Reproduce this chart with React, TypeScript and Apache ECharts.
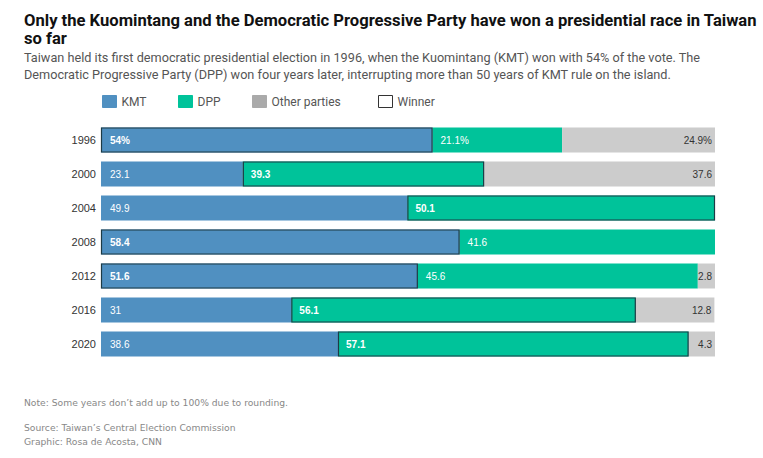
import React, { useEffect, useRef } from 'react';
import * as echarts from 'echarts';

const years = ['1996', '2000', '2004', '2008', '2012', '2016', '2020'];
const kmt = [54, 23.1, 49.9, 58.4, 51.6, 31, 38.6];
const dpp = [21.1, 39.3, 50.1, 41.6, 45.6, 56.1, 57.1];
const others = [24.9, 37.6, 0, 0, 2.8, 12.8, 4.3];
const winners = ['KMT', 'DPP', 'DPP', 'KMT', 'KMT', 'DPP', 'DPP'];

const KMT_COLOR = '#5090c1';
const DPP_COLOR = '#00c39a';
const OTHER_COLOR = '#cccccc';
const BORDER = '#1d3b45';

const App: React.FC = () => {
  const chartRef = useRef<HTMLDivElement>(null);

  useEffect(() => {
    document.body.style.margin = '0';
    if (!chartRef.current) return;
    const chart = echarts.init(chartRef.current, null, { renderer: 'svg' });

    const fmt = (p: any) => {
      const v = p.value;
      if (!v) return '';
      return p.dataIndex === 0 ? `${v}%` : `${v}`;
    };

    const withWeight = (vals: number[], party: string) =>
      vals.map((v, i) => ({
        value: v,
        label: { fontWeight: winners[i] === party ? 'bold' : 'normal' }
      }));

    // winner outline spans: [start, end, row]
    const winnerSpans = winners.map((w, i) =>
      w === 'KMT' ? [0, kmt[i], i] : [kmt[i], kmt[i] + dpp[i], i]
    );

    const labelBase = {
      show: true,
      fontFamily: 'Liberation Sans, Arial, sans-serif',
      fontSize: 10,
      formatter: fmt
    };

    const option: echarts.EChartsOption = {
      animation: false,
      backgroundColor: '#ffffff',
      title: {
        left: 24,
        top: 11,
        text: 'Only the Kuomintang and the Democratic Progressive Party have won a presidential race in Taiwan\nso far',
        textStyle: {
          fontFamily: 'Roboto, sans-serif',
          fontSize: 16.6,
          fontWeight: 'bold',
          lineHeight: 18,
          color: '#111111'
        },
        subtext:
          'Taiwan held its first democratic presidential election in 1996, when the Kuomintang (KMT) won with 54% of the vote. The\nDemocratic Progressive Party (DPP) won four years later, interrupting more than 50 years of KMT rule on the island.',
        subtextStyle: {
          fontFamily: 'Roboto, sans-serif',
          fontSize: 12.7,
          lineHeight: 17,
          color: '#555555'
        },
        itemGap: 2,
        padding: 0
      },
      legend: [
        { name: 'KMT', left: 102, color: KMT_COLOR },
        { name: 'DPP', left: 178, color: DPP_COLOR },
        { name: 'Other parties', left: 252, color: '#aaaaaa' },
        { name: 'Winner', left: 378, color: '#ffffff' }
      ].map(l => ({
        left: l.left,
        top: 95,
        padding: 0,
        itemWidth: 14,
        itemHeight: 12,
        itemGap: 7,
        selectedMode: false,
        icon: 'rect',
        textStyle: { fontFamily: 'Roboto, sans-serif', fontSize: 12, color: '#555555', padding: [0, 0, 0, 0] },
        data: [
          {
            name: l.name,
            itemStyle: {
              color: l.color,
              borderColor: l.name === 'Winner' ? '#333333' : l.color,
              borderWidth: 1
            }
          }
        ]
      })) as any,
      grid: { left: 101, right: 48, top: 123, bottom: 97, containLabel: false },
      xAxis: { type: 'value', min: 0, max: 100, show: false },
      yAxis: {
        type: 'category',
        data: years,
        inverse: true,
        axisLine: { show: false },
        axisTick: { show: false },
        axisLabel: {
          margin: 5,
          fontFamily: 'Liberation Sans, Arial, sans-serif',
          fontSize: 11,
          color: '#333333'
        }
      },
      series: [
        {
          name: 'KMT',
          type: 'bar',
          stack: 'total',
          barWidth: 25,
          data: withWeight(kmt, 'KMT'),
          itemStyle: { color: KMT_COLOR },
          label: { ...labelBase, position: 'insideLeft', distance: 9, color: '#ffffff' }
        },
        {
          name: 'DPP',
          type: 'bar',
          stack: 'total',
          barWidth: 25,
          data: withWeight(dpp, 'DPP'),
          itemStyle: { color: DPP_COLOR },
          label: { ...labelBase, position: 'insideLeft', distance: 8, color: '#ffffff' }
        },
        {
          name: 'Other parties',
          type: 'bar',
          stack: 'total',
          barWidth: 25,
          data: others,
          itemStyle: { color: OTHER_COLOR },
          label: { ...labelBase, position: 'insideRight', distance: 3, color: '#333333' }
        },
        {
          name: 'Winner',
          type: 'custom',
          z: 10,
          silent: true,
          encode: { x: [0, 1], y: 2 },
          data: winnerSpans,
          renderItem: (params: any, api: any) => {
            const a = api.coord([api.value(0), api.value(2)]);
            const b = api.coord([api.value(1), api.value(2)]);
            return {
              type: 'rect',
              shape: { x: a[0] + 0.5, y: a[1] - 12, width: b[0] - a[0] - 1, height: 24 },
              style: { fill: 'none', stroke: BORDER, lineWidth: 1.2 }
            };
          }
        }
      ],
      graphic: [
        {
          type: 'text',
          left: 24,
          top: 398,
          style: {
            text: 'Note: Some years don\u2019t add up to 100% due to rounding.',
            fontFamily: 'DejaVu Sans, sans-serif',
            fontSize: 9.2,
            fill: '#888888'
          }
        },
        {
          type: 'text',
          left: 24,
          top: 420,
          style: {
            text: 'Source: Taiwan\u2019s Central Election Commission\nGraphic: Rosa de Acosta, CNN',
            fontFamily: 'DejaVu Sans, sans-serif',
            fontSize: 9.2,
            lineHeight: 14,
            fill: '#888888'
          }
        }
      ]
    };

    chart.setOption(option);
    return () => chart.dispose();
  }, []);

  return <div ref={chartRef} style={{ width: 763, height: 458 }} />;
};

export default App;
